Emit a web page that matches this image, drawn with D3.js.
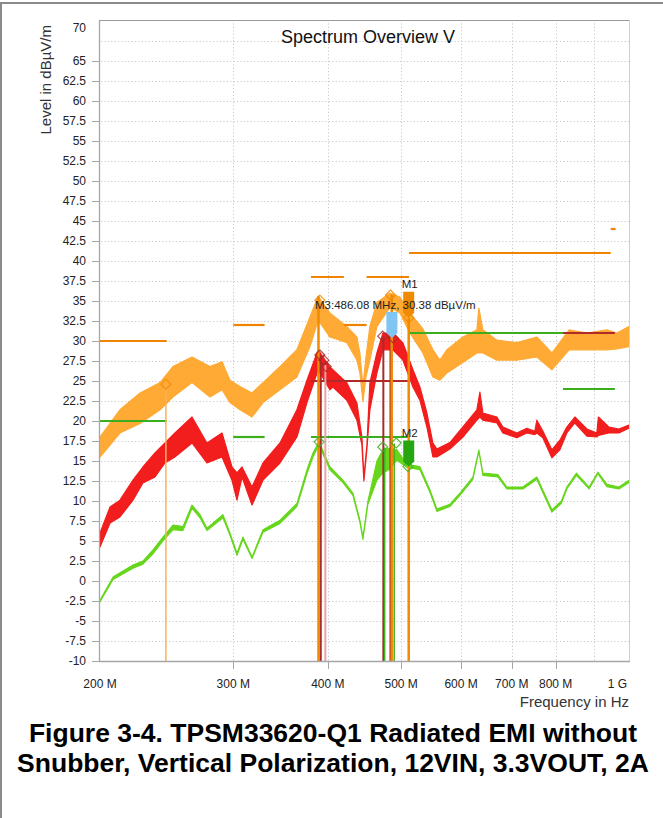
<!DOCTYPE html>
<html>
<head>
<meta charset="utf-8">
<script src="https://cdn.jsdelivr.net/npm/d3@7"></script>
<style>
  html, body { margin: 0; padding: 0; background: #fff; }
  svg { display: block; font-family: "Liberation Sans", Arial, sans-serif; }
</style>
</head>
<body>
<svg id="chart" width="663" height="818"></svg>
<script>
// ---- axis values ----
const levelTicks = [65, 62.5, 60, 57.5, 55, 52.5, 50, 47.5, 45, 42.5, 40, 37.5, 35, 32.5, 30, 27.5,
  25, 22.5, 20, 17.5, 15, 12.5, 10, 7.5, 5, 2.5, 0, -2.5, -5, -7.5, -10];
const levelTopLabel = "70";
const levelGrid = [67.5, 65, 62.5, 60, 57.5, 55, 52.5, 50, 47.5, 45, 42.5, 40, 37.5, 35, 32.5, 30, 27.5,
  25, 22.5, 20, 17.5, 15, 12.5, 10, 7.5, 5, 2.5, 0, -2.5, -5, -7.5];
const freqTicks = [300, 400, 500, 600, 700, 800];                 // MHz
const freqTickLabels = ["300 M", "400 M", "500 M", "600 M", "700 M", "800 M"];
const freqGrid = [300, 400, 500, 600, 700, 800, 900];
const freqEdgeLabels = ["200 M", "1 G"];

// ---- peak detector trace (MHz, dBuV/m upper / lower envelope) ----
const pkFreq = [200, 212.5, 225.9, 240.1, 249.7, 264.6, 279.5, 289.9, 297, 306.2, 317.6, 328.4, 345.8, 364.1,
  378.8, 388.4, 402.5, 423.9, 437, 441, 445.1, 449.2, 454.6, 464.4, 483.2, 498.1, 513.5, 534.2, 550.7, 562.5,
  574.6, 603.3, 629.5, 633.3, 641.1, 669, 710.9, 755.5, 790.8, 833.4, 879.7, 934.8, 963.9, 1000];
const pkHigh = [18, 21.4, 23.5, 24.8, 26.8, 28, 26.8, 27.4, 25.1, 24.3, 23.5, 24.8, 26.8, 28.9,
  33, 35.6, 33.5, 31.8, 30.5, 28.5, 24.3, 28, 31.8, 34.8, 36, 35.5, 33.5, 31.5, 28.9, 27.6,
  28.9, 30.5, 31.4, 34.1, 31.4, 30.1, 29.8, 30.5, 28.5, 31.4, 31, 31.4, 31, 31.8];
const pkLow = [15.5, 18.5, 19.7, 21.4, 23, 24.8, 23, 23.9, 22.3, 21.4, 20.5, 22.3, 23.9, 25.5,
  29.3, 32.6, 30.5, 29.8, 27.6, 26, 22.4, 25.5, 27.6, 31.8, 34.2, 33.5, 31, 28.5, 25.5, 25.1,
  26, 27.3, 28.5, 28.5, 28.5, 27.6, 27.6, 28, 26.4, 28.9, 28.9, 28.9, 29, 29.3];

// ---- quasi-peak trace ----
const qpFreq = [200, 206.2, 212.5, 221.1, 227.9, 236.4, 243.7, 251.2, 264.6, 276.9, 289.9, 298.8, 303.4, 308.1,
  317.6, 328.4, 345.8, 364.1, 375.4, 388.4, 402.5, 406.2, 423.9, 437, 443.7, 446.4, 450.5, 454.6, 464.4, 473,
  487.6, 502.7, 518.2, 529.3, 540.7, 550.7, 557.4, 579.9, 603.3, 629.5, 635.3, 641.1, 669, 681.3, 710.9,
  732.9, 750.9, 755.5, 769.4, 790.8, 810.3, 827.7, 848.1, 879.7, 906.8, 911, 940.5, 969.8, 1000];
const qpHigh = [6, 9.25, 10.1, 12.6, 14.25, 16, 17.25, 18.5, 20.5, 17.25, 18.5, 14.25, 13.5, 14.25,
  11.75, 14.75, 17.25, 21.4, 25.1, 28.9, 26.75, 26.4, 24.75, 22.25, 18, 13, 17, 24.75, 28.5, 31,
  31, 29.75, 26.4, 24.25, 21, 17.25, 16.5, 17.3, 19.25, 21.4, 23.6, 21, 20.5, 19.25, 18.5,
  19.1, 18.7, 20.1, 18.75, 16.4, 17.6, 19.25, 20.5, 19, 18.5, 20.5, 19.25, 19, 19.5];
const qpLow = [4.25, 7.25, 8, 10.1, 12.25, 13, 14.75, 15.5, 17.25, 14.75, 15.5, 12.6, 10.1, 13,
  9.5, 12.6, 14.75, 18, 22.3, 26.4, 23.9, 24.25, 22.6, 20.1, 17, 12.5, 16.5, 21.4, 26, 28.9,
  28.9, 27.6, 24.25, 22.6, 19.25, 15.5, 15.5, 16.5, 18, 20.1, 20.5, 20.1, 19.75, 18.5, 17.9,
  18.5, 18.3, 18.5, 17.9, 15.4, 16.4, 18.5, 19.75, 18.1, 18, 18.2, 18.5, 18.5, 19.1];

// ---- average trace ----
const avFreq = [200, 208.1, 221.1, 227.9, 235, 242.2, 249.7, 257.4, 264.6, 271.1, 276.9, 290.7, 297, 303.4,
  309, 317.6, 328.4, 345.8, 364.1, 375.4, 382.3, 389.4, 402.5, 418.8, 431.7, 441, 445.1, 451.9, 464.4, 473,
  483.2, 493.6, 508.8, 529.3, 545.7, 557.4, 579.9, 597.8, 621.9, 633.3, 641.1, 671, 689.6, 724, 755.5,
  790.8, 814, 827.7, 852.2, 885.7, 909.6, 934.8, 969.8, 1000];
const avHigh = [-2.4, 0.5, 2, 2.5, 3.9, 5.5, 7, 6.8, 9.5, 8.3, 6.6, 8.3, 6, 3.5,
  5.5, 3, 6.4, 7.6, 9.7, 13.9, 16, 17.4, 14.3, 12.6, 11, 7.6, 5.5, 10, 15, 16.4,
  16.6, 16.4, 14.6, 14.3, 11.4, 9, 9.6, 11, 13, 16.4, 13.5, 13.3, 11.75, 11.75, 13,
  8.9, 10, 11.75, 13.5, 11.75, 13.6, 12.1, 11.75, 12.6];
const avLow = [-2.6, 0.2, 1.6, 2.1, 3.4, 5, 6.4, 6.3, 9.1, 7.9, 6.3, 7.9, 5.7, 3.2,
  5.2, 2.8, 6.1, 7.2, 9.3, 13.4, 15.5, 17, 13.9, 12.3, 10.7, 7.3, 5.2, 9.6, 12.6, 13.5,
  14, 15.1, 14.2, 13.9, 11.1, 8.7, 9.3, 10.7, 12.7, 16.2, 13.2, 13, 11.5, 11.5, 12.7,
  8.6, 9.7, 11.5, 13.2, 11.5, 13.4, 11.8, 11.5, 12.3];

// ---- limit segments [start MHz, stop MHz, level] ----
const pkLimits = [[200, 245, 30], [300, 330, 32], [380, 420, 38], [420, 450, 32], [450, 512, 38],
  [512, 946, 41], [946, 960, 44]];
const avLimits = [[200, 245, 20], [300, 330, 18], [380, 512, 18], [512, 818, 31], [818, 958, 24]];
const qpLimits = [[380, 512, 25], [818, 958, 31]];

// ---- final measurement cursors: frequency, level where the line starts, detector ----
const cursorFreq = [244.4, 388.8, 391.5, 397, 473.6, 475.5, 484, 485.8, 489.5, 511.6];
const cursorLevel = [24.6, 35.6, 28.2, 27, 30.6, 16.7, 30.5, 35.8, 17.2, 32.9];
const cursorKind = ["pkLight", "pk", "qp", "qpLight", "qp", "av", "qp", "pk", "av", "pk"];

// ---- final measurement points ----
const pkPointFreq = [244.4, 390.4, 484, 511.6];
const pkPointLevel = [24.6, 35.1, 35.75, 32.9];
const qpPointFreq = [390.4, 395.2, 398, 472.7, 487.8];
const qpPointLevel = [28.25, 27.6, 26.8, 30.6, 30.4];
const avPointFreq = [389.5, 472.7, 492.5, 510.5];
const avPointLevel = [17.4, 16.75, 17.25, 14.3];

// ---- markers ----
const markerNames = ["M1", "M2", "M3"];
const markerFreq = [511.6, 511.6, 486.08];
const markerLevel = [32.9, 14.3, 30.38];
const markerKind = ["pk", "av", "delta"];
const m3Label = "M3:486.08 MHz, 30.38 dBµV/m";

const titleText = "Spectrum Overview V";
const yTitle = "Level in dBµV/m";
const xTitle = "Frequency in Hz";
const caption = ["Figure 3-4. TPSM33620-Q1 Radiated EMI without",
  "Snubber, Vertical Polarization, 12VIN, 3.3VOUT, 2A"];

// ---- colours ----
const C = {
  pkTrace: "#ffaa35", qpTrace: "#f21d1d", avTrace: "#66d61c",
  pkLimit: "#f08400", avLimit: "#3aae1c", qpLimit: "#b02a2a",
  pk: "#f08a00", pkLight: "#f6b25a", qp: "#a82c2c", qpLight: "#e9a4a4", av: "#3fb21f",
  delta: "#7fc6f2", markerAv: "#27a612", grid: "#c9c9c9", axis: "#a6a6a6", text: "#222"
};

const svg = d3.select("#chart");
const L = 100, R = 629, T = 21, B = 661;
const x = d3.scaleLog().domain([200, 1000]).range([L, R]);
const y = d3.scaleLinear().domain([-10, 70]).range([B, T]);

// outer frame of the figure
svg.append("path").attr("d", "M1,818 V3 H663").attr("fill", "none")
  .attr("stroke", "#8a8a8a").attr("stroke-width", 2);

// grid
const grid = svg.append("g").attr("stroke", C.grid).attr("stroke-dasharray", "1.2,2.2").attr("stroke-width", 1);
grid.selectAll("line.h").data(levelGrid).join("line")
  .attr("x1", L + 1).attr("x2", R).attr("y1", d => Math.round(y(d)) + 0.5).attr("y2", d => Math.round(y(d)) + 0.5);
grid.selectAll("line.v").data(freqGrid).join("line")
  .attr("x1", d => Math.round(x(d)) + 0.5).attr("x2", d => Math.round(x(d)) + 0.5).attr("y1", T - 1).attr("y2", B);

// plot frame
svg.append("line").attr("x1", L).attr("x2", R).attr("y1", 20.5).attr("y2", 20.5).attr("stroke", "#9a9a9a");
svg.append("line").attr("x1", R + 0.5).attr("x2", R + 0.5).attr("y1", 20).attr("y2", B).attr("stroke", "#d0d0d0");

// clip
svg.append("defs").append("clipPath").attr("id", "plotClip")
  .append("rect").attr("x", L).attr("y", T - 1).attr("width", R - L).attr("height", B - T + 1);
const plot = svg.append("g").attr("clip-path", "url(#plotClip)");

// traces as envelope bands
function band(freq, hi, lo, color, sw) {
  const rows = freq.map((f, i) => ({ f, hi: hi[i], lo: lo[i] }));
  const area = d3.area().x(d => x(d.f)).y0(d => y(d.lo)).y1(d => y(d.hi));
  plot.append("path").datum(rows).attr("d", area).attr("fill", color)
    .attr("stroke", color).attr("stroke-width", sw).attr("stroke-linejoin", "round");
}
band(pkFreq, pkHigh, pkLow, C.pkTrace, 1.2);
band(qpFreq, qpHigh, qpLow, C.qpTrace, 1.2);
band(avFreq, avHigh, avLow, C.avTrace, 1.1);

// limit lines
function limits(segs, color) {
  plot.selectAll(null).data(segs).join("line")
    .attr("x1", d => x(d[0])).attr("x2", d => x(d[1]))
    .attr("y1", d => y(d[2])).attr("y2", d => y(d[2]))
    .attr("stroke", color).attr("stroke-width", 2.2);
}
limits(pkLimits, C.pkLimit);
limits(avLimits, C.avLimit);
limits(qpLimits, C.qpLimit);

// cursor lines
const cursorWidth = { pk: 2.5, pkLight: 1.5, qp: 2, qpLight: 2, av: 1.5 };
plot.selectAll(null).data(cursorFreq.map((f, i) => ({ f, v: cursorLevel[i], k: cursorKind[i] })))
  .join("line")
  .attr("x1", d => x(d.f)).attr("x2", d => x(d.f))
  .attr("y1", d => y(d.v)).attr("y2", B)
  .attr("stroke", d => C[d.k]).attr("stroke-width", d => cursorWidth[d.k]);

// measurement points as hollow diamonds
function diamonds(freq, lev, color) {
  plot.selectAll(null).data(freq.map((f, i) => ({ f, v: lev[i] }))).join("path")
    .attr("d", d => {
      const cx = x(d.f), cy = y(d.v), r = 5;
      return `M${cx},${cy - r}L${cx + r},${cy}L${cx},${cy + r}L${cx - r},${cy}Z`;
    })
    .attr("fill", "none").attr("stroke", color).attr("stroke-width", 1.2).attr("opacity", 0.85);
}
diamonds(pkPointFreq, pkPointLevel, C.pk);
diamonds(qpPointFreq, qpPointLevel, C.qp);
diamonds(avPointFreq, avPointLevel, C.av);

// markers (flag pointing down to the level)
const markerColor = { pk: C.pk, av: C.markerAv, delta: C.delta };
markerNames.forEach((name, i) => {
  const cx = x(markerFreq[i]), cy = y(markerLevel[i]);
  const w = 5.5, h = 21, tip = 5;
  svg.append("path")
    .attr("d", `M${cx - w},${cy - tip - h}H${cx + w}V${cy - tip}L${cx},${cy}L${cx - w},${cy - tip}Z`)
    .attr("fill", markerColor[markerKind[i]]);
  if (markerKind[i] !== "delta") {
    svg.append("text").attr("x", cx - 7).attr("y", cy - tip - h - 4)
      .attr("font-size", 11.5).attr("fill", C.text).text(name);
  }
});
svg.append("text").attr("x", 315).attr("y", 309).attr("font-size", 11.5).attr("fill", C.text).text(m3Label);

// axes
svg.append("line").attr("x1", L - 0.5).attr("x2", L - 0.5).attr("y1", 20).attr("y2", B + 0.5)
  .attr("stroke", C.axis).attr("stroke-width", 1.3);
svg.append("line").attr("x1", L - 1).attr("x2", R + 1).attr("y1", B + 0.5).attr("y2", B + 0.5)
  .attr("stroke", C.axis).attr("stroke-width", 1.3);

const yAxis = svg.append("g");
yAxis.selectAll("line").data(levelTicks).join("line")
  .attr("x1", 92).attr("x2", L).attr("y1", d => Math.round(y(d)) + 0.5).attr("y2", d => Math.round(y(d)) + 0.5)
  .attr("stroke", C.axis);
yAxis.selectAll("text").data(levelTicks).join("text")
  .attr("x", 86).attr("y", d => y(d) + 4.3).attr("text-anchor", "end")
  .attr("font-size", 12).attr("fill", C.text).text(d => String(d));
svg.append("text").attr("x", 86).attr("y", 32).attr("text-anchor", "end")
  .attr("font-size", 12).attr("fill", C.text).text(levelTopLabel);

const xAxis = svg.append("g");
xAxis.selectAll("line").data(freqTicks).join("line")
  .attr("x1", d => Math.round(x(d)) + 0.5).attr("x2", d => Math.round(x(d)) + 0.5)
  .attr("y1", B).attr("y2", B + 8).attr("stroke", C.axis);
xAxis.selectAll("text").data(freqTicks).join("text")
  .attr("x", d => x(d)).attr("y", 688).attr("text-anchor", "middle")
  .attr("font-size", 12).attr("fill", C.text).text((d, i) => freqTickLabels[i]);
svg.append("text").attr("x", x(200)).attr("y", 688).attr("text-anchor", "middle")
  .attr("font-size", 12).attr("fill", C.text).text(freqEdgeLabels[0]);
svg.append("text").attr("x", R - 2).attr("y", 688).attr("text-anchor", "end")
  .attr("font-size", 12).attr("fill", C.text).text(freqEdgeLabels[1]);

// titles
svg.append("text").attr("x", 368).attr("y", 43).attr("text-anchor", "middle")
  .attr("font-size", 18).attr("fill", "#111").text(titleText);
svg.append("text").attr("transform", "translate(51,25) rotate(-90)").attr("text-anchor", "end")
  .attr("font-size", 15).attr("fill", "#333").text(yTitle);
svg.append("text").attr("x", R).attr("y", 707).attr("text-anchor", "end")
  .attr("font-size", 15).attr("fill", "#333").text(xTitle);

// caption
svg.selectAll("text.cap").data(caption).join("text")
  .attr("x", 333).attr("y", (d, i) => 742 + i * 30).attr("text-anchor", "middle")
  .attr("font-size", 26.5).attr("font-weight", "bold").attr("fill", "#000").text(d => d);
</script>
</body>
</html>
